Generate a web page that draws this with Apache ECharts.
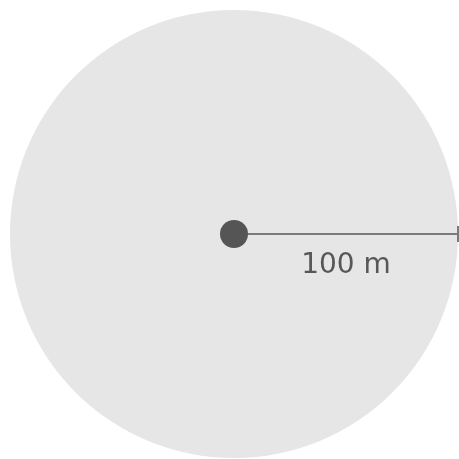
<!DOCTYPE html>
<html>
<head>
<meta charset="utf-8">
<script src="https://cdn.jsdelivr.net/npm/echarts@6/dist/echarts.min.js"></script>
<style>
html,body{margin:0;padding:0;background:#fff;}
#main{width:459px;height:459px;}
</style>
</head>
<body>
<div id="main"></div>
<script>
// Data
const radiusValues = [100];          // circle radius in metres
const centerPoint = [[0, 0]];        // centre of the circle
const radiusLabels = ['100 m'];      // label of the radius line

const R = radiusValues[0];
const chart = echarts.init(document.getElementById('main'), null, {renderer: 'canvas'});

const option = {
  backgroundColor: '#ffffff',
  animation: false,
  grid: {left: 10, top: 10, width: 448, height: 448},
  xAxis: {type: 'value', min: -R, max: R, show: false},
  yAxis: {type: 'value', min: -R, max: R, show: false},
  series: [
    {
      type: 'custom',
      data: centerPoint,
      silent: true,
      z: 1,
      renderItem: function (params, api) {
        const c = api.coord([api.value(0), api.value(1)]);
        const r = api.size([R, 0])[0];
        return {type: 'circle', shape: {cx: c[0], cy: c[1], r: r}, style: {fill: '#e6e6e6'}};
      }
    },
    {
      type: 'line',
      data: [[centerPoint[0][0], centerPoint[0][1]], [centerPoint[0][0] + R, centerPoint[0][1]]],
      showSymbol: false,
      silent: true,
      z: 2,
      lineStyle: {color: '#7a7a7a', width: 2}
    },
    {
      type: 'scatter',
      data: [[centerPoint[0][0] + R, centerPoint[0][1]]],
      symbol: 'rect',
      symbolSize: [2, 16],
      itemStyle: {color: '#7a7a7a', opacity: 1},
      silent: true,
      z: 3
    },
    {
      type: 'scatter',
      data: [[centerPoint[0][0] + R / 2, centerPoint[0][1]]],
      symbolSize: 0,
      itemStyle: {opacity: 1},
      silent: true,
      z: 4,
      label: {
        show: true,
        position: 'bottom',
        distance: 18,
        formatter: radiusLabels[0],
        color: '#575757',
        fontSize: 28,
        fontFamily: '"DejaVu Sans", sans-serif',
        fontWeight: 'normal'
      }
    },
    {
      type: 'scatter',
      data: centerPoint,
      symbol: 'circle',
      symbolSize: 28,
      itemStyle: {color: '#555555', opacity: 1},
      silent: true,
      z: 5
    }
  ]
};
chart.setOption(option);
</script>
</body>
</html>
